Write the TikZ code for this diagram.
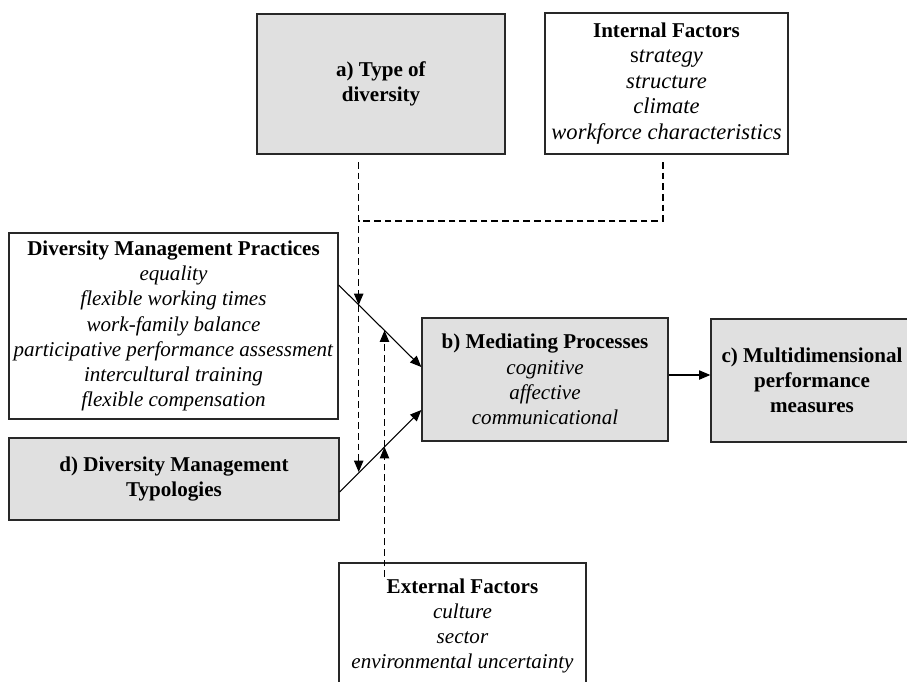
\documentclass[tikz,border=0pt]{standalone}
\usepackage{fontspec}
\setmainfont{Liberation Serif}
\usetikzlibrary{arrows.meta}
\definecolor{boxgray}{RGB}{224,224,224}
\definecolor{edge}{RGB}{40,40,40}
\tikzset{
  box/.style={draw=edge, line width=1pt, align=center, inner sep=0pt,
    font=\fontsize{15.8}{18.9}\selectfont},
  graybox/.style={box, fill=boxgray},
  arr/.style={line width=0.8pt, -{Triangle[length=8.5pt,width=7pt]}},
  dashline/.style={line width=0.8pt, dash pattern=on 5pt off 3pt}
}
\newcommand{\bigit}[1]{{\fontsize{16.9}{19.1}\selectfont\textit{#1}}}
\begin{document}
\begin{tikzpicture}[x=0.75pt,y=-0.75pt]
\useasboundingbox (0,0) rectangle (907,682);
\clip (0,0) rectangle (907,682);
\fill[white] (0,0) rectangle (907,682);

\node[graybox, minimum width=186pt, minimum height=105pt] (a) at (381,84)
  {\textbf{a) Type of}\\\textbf{diversity}};
\node[box, minimum width=182.25pt, minimum height=105.75pt, font=\fontsize{15.8}{19.1}\selectfont] (int) at (666.5,83.5)
  {\textbf{Internal Factors}\\{\fontsize{16.9}{19.1}\selectfont s\textit{trategy}}\\\bigit{structure}\\\bigit{climate}\\\bigit{workforce characteristics}};
\node[box, minimum width=246.75pt, minimum height=139.5pt] (dmp) at (173.5,326)
  {\textbf{Diversity Management Practices}\\\textit{equality}\\\textit{flexible working times}\\\textit{work-family balance}\\\textit{participative performance assessment}\\\textit{intercultural training}\\\textit{flexible compensation}};
\node[graybox, minimum width=247.5pt, minimum height=61.5pt] (d) at (174,479)
  {\textbf{d) Diversity Management}\\\textbf{Typologies}};
\node[graybox, minimum width=184.5pt, minimum height=92.25pt] (b) at (545,379.5)
  {\textbf{b) Mediating Processes}\\\textit{cognitive}\\\textit{affective}\\\textit{communicational}};
\node[graybox, minimum width=151.5pt, minimum height=92.25pt] (c) at (812,380.5)
  {\textbf{c) Multidimensional}\\\textbf{performance}\\\textbf{measures}};
\node[box, minimum width=185.25pt, minimum height=94.5pt] (ext) at (462.5,626)
  {\textbf{External Factors}\\\textit{culture}\\\textit{sector}\\\textit{environmental uncertainty}};

% solid connectors
\draw[arr] (dmp.east |- 0,285) -- (b.west |- 0,367);
\draw[arr] (d.east |- 0,492) -- (b.west |- 0,410);
\draw[arr] (b.east |- 0,375) -- (c.west |- 0,375);

% dashed moderators
\coordinate (a1) at (358.7,162);
\coordinate (m1) at (358.7,305);
\coordinate (m2) at (358.7,472);
\coordinate (i1) at (663,162);
\coordinate (i2) at (663,221);
\coordinate (j) at (358.7,221);
\coordinate (e1) at (384.5,577);
\coordinate (u1) at (384.5,447);
\coordinate (u2) at (384.5,330.5);

\draw[dashline, arr] (a1) -- (m1);
\draw[dashline, arr] (m1) -- (m2);
\draw[dashline] (i1) -- (i2) -- (j);
\draw[dashline, arr] (e1) -- (u1);
\draw[dashline, arr] (u1) -- (u2);
\end{tikzpicture}
\end{document}
